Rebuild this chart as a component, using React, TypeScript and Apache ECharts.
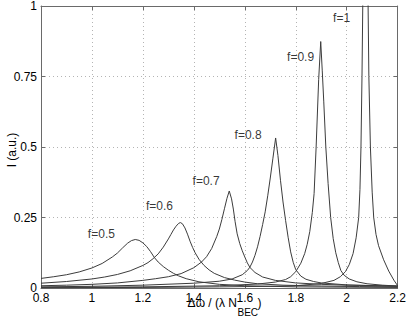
import React, { useEffect, useRef } from "react";
import * as echarts from "echarts";

const FONT = "Liberation Sans, Arial, Helvetica, sans-serif";

const xTickMin = 0.8;
const xTickMax = 2.2;
const xTickStep = 0.2;
const yTickMin = 0;
const yTickMax = 1;
const yTickStep = 0.25;

const curveNames = ["f=0.5", "f=0.6", "f=0.7", "f=0.8", "f=0.9", "f=1"];

const f05: number[][] = [[0.80,0.034],[0.85,0.040],[0.90,0.047],[0.95,0.057],[1.00,0.071],[1.04,0.087],[1.08,0.110],[1.10,0.124],[1.12,0.142],[1.14,0.159],[1.155,0.168],[1.17,0.172],[1.185,0.169],[1.20,0.160],[1.215,0.147],[1.23,0.129],[1.245,0.108],[1.26,0.092],[1.28,0.076],[1.30,0.063],[1.32,0.052],[1.34,0.043],[1.37,0.033],[1.42,0.022],[1.50,0.013],[1.60,0.008],[1.80,0.004],[2.0,0.003],[2.2,0.002]];

const f06: number[][] = [[0.80,0.017],[0.90,0.023],[1.00,0.032],[1.05,0.039],[1.10,0.048],[1.15,0.061],[1.20,0.080],[1.22,0.090],[1.24,0.104],[1.26,0.121],[1.28,0.145],[1.30,0.174],[1.31,0.190],[1.32,0.206],[1.33,0.219],[1.34,0.229],[1.347,0.232],[1.355,0.228],[1.365,0.213],[1.375,0.191],[1.385,0.166],[1.395,0.144],[1.405,0.125],[1.42,0.102],[1.44,0.080],[1.46,0.064],[1.48,0.052],[1.52,0.037],[1.56,0.028],[1.60,0.021],[1.65,0.015],[1.75,0.010],[1.90,0.007],[2.05,0.005],[2.2,0.004]];

const f07: number[][] = [[0.80,0.008],[0.90,0.010],[1.00,0.013],[1.10,0.018],[1.20,0.027],[1.25,0.033],[1.30,0.040],[1.35,0.051],[1.40,0.072],[1.43,0.092],[1.45,0.111],[1.47,0.140],[1.49,0.183],[1.50,0.209],[1.51,0.243],[1.52,0.281],[1.53,0.318],[1.539,0.344],[1.548,0.316],[1.555,0.280],[1.562,0.235],[1.57,0.192],[1.58,0.158],[1.59,0.132],[1.60,0.110],[1.61,0.089],[1.62,0.073],[1.64,0.055],[1.67,0.039],[1.72,0.027],[1.80,0.018],[1.90,0.013],[2.0,0.010],[2.2,0.007]];

const f08: number[][] = [[0.80,0.004],[1.00,0.006],[1.20,0.010],[1.40,0.017],[1.50,0.024],[1.55,0.032],[1.59,0.047],[1.61,0.062],[1.62,0.074],[1.63,0.092],[1.64,0.116],[1.65,0.146],[1.66,0.183],[1.67,0.225],[1.68,0.270],[1.69,0.327],[1.70,0.390],[1.71,0.458],[1.721,0.532],[1.73,0.470],[1.74,0.382],[1.75,0.305],[1.76,0.240],[1.77,0.180],[1.78,0.128],[1.79,0.091],[1.80,0.065],[1.82,0.042],[1.84,0.031],[1.87,0.023],[1.90,0.018],[2.0,0.011],[2.2,0.006]];

const f09: number[][] = [[0.80,0.002],[1.20,0.004],[1.50,0.008],[1.65,0.014],[1.72,0.021],[1.76,0.030],[1.78,0.040],[1.80,0.058],[1.82,0.088],[1.835,0.122],[1.845,0.155],[1.855,0.200],[1.865,0.268],[1.872,0.335],[1.88,0.500],[1.89,0.740],[1.898,0.874],[1.904,0.770],[1.91,0.660],[1.918,0.500],[1.927,0.370],[1.937,0.250],[1.947,0.175],[1.957,0.125],[1.967,0.090],[1.977,0.062],[1.99,0.045],[2.01,0.032],[2.04,0.022],[2.08,0.015],[2.14,0.010],[2.2,0.007]];

const f10: number[][] = [[0.80,0.001],[1.20,0.002],[1.50,0.004],[1.70,0.006],[1.80,0.008],[1.90,0.016],[1.95,0.027],[1.975,0.040],[1.995,0.058],[2.01,0.083],[2.025,0.122],[2.037,0.178],[2.047,0.250],[2.052,0.350],[2.056,0.500],[2.060,0.750],[2.063,1.000],[2.075,2.500],[2.084,1.000],[2.087,0.750],[2.093,0.500],[2.100,0.340],[2.106,0.250],[2.115,0.190],[2.125,0.150],[2.145,0.100],[2.165,0.060],[2.185,0.028],[2.2,0.008]];

const curves = [f05, f06, f07, f08, f09, f10];

// label anchor positions (data coordinates)
const labelX = [1.037, 1.265, 1.448, 1.613, 1.819, 1.98];
const labelY = [0.19, 0.291, 0.378, 0.541, 0.82, 0.956];

const LINE = "#3c3c3c";
const FRAME = "#6a6a6a";
const GRID = "#b4b4b4";

export default function App() {
  const ref = useRef<HTMLDivElement>(null);
  useEffect(() => {
    if (!ref.current) return;
    const chart = echarts.init(ref.current, undefined, { renderer: "svg" });
    const grid = { left: 41, right: 8, top: 5, bottom: 31 };
    const baseX = {
      type: "value" as const,
      min: xTickMin,
      max: xTickMax,
      interval: xTickStep,
    };
    const baseY = {
      type: "value" as const,
      min: yTickMin,
      max: yTickMax,
      interval: yTickStep,
    };
    const option: any = {
      animation: false,
      grid,
      xAxis: [
        {
          ...baseX,
          position: "bottom",
          axisLine: { show: true, onZero: false, lineStyle: { color: FRAME, width: 1 } },
          axisTick: { show: true, inside: true, length: 4, lineStyle: { color: FRAME } },
          axisLabel: { color: "#000", fontSize: 12, fontFamily: FONT, margin: 4 },
          splitLine: { show: true, lineStyle: { color: GRID, type: [1, 3], width: 1 } },
        },
        {
          ...baseX,
          position: "top",
          axisLine: { show: true, onZero: false, lineStyle: { color: FRAME, width: 1 } },
          axisTick: { show: true, inside: true, length: 4, lineStyle: { color: FRAME } },
          axisLabel: { show: false },
          splitLine: { show: false },
        },
      ],
      yAxis: [
        {
          ...baseY,
          position: "left",
          axisLine: { show: true, onZero: false, lineStyle: { color: FRAME, width: 1 } },
          axisTick: { show: true, inside: true, length: 4, lineStyle: { color: FRAME } },
          axisLabel: { color: "#000", fontSize: 12, fontFamily: FONT, margin: 4 },
          splitLine: { show: true, lineStyle: { color: GRID, type: [1, 3], width: 1 } },
        },
        {
          ...baseY,
          position: "right",
          axisLine: { show: true, onZero: false, lineStyle: { color: FRAME, width: 1 } },
          axisTick: { show: true, inside: true, length: 4, lineStyle: { color: FRAME } },
          axisLabel: { show: false },
          splitLine: { show: false },
        },
      ],
      series: [
        ...curves.map((d, i) => ({
          type: "line",
          name: curveNames[i],
          data: d,
          xAxisIndex: 0,
          yAxisIndex: 0,
          symbol: "none",
          showSymbol: false,
          smooth: false,
          clip: true,
          lineStyle: { color: LINE, width: 1 },
          z: 3,
        })),
        {
          type: "scatter",
          xAxisIndex: 0,
          yAxisIndex: 0,
          symbolSize: 0,
          data: curveNames.map((n, i) => ({ name: n, value: [labelX[i], labelY[i]] })),
          label: {
            show: true,
            position: "inside",
            formatter: (p: any) => p.name,
            color: "#000",
            fontSize: 12,
            fontFamily: FONT,
          },
          silent: true,
          z: 5,
        },
      ],
      graphic: [
        {
          type: "text",
          x: 12,
          y: 150,
          rotation: Math.PI / 2,
          style: {
            text: "I (a.u.)",
            fill: "#000",
            fontSize: 12,
            fontFamily: FONT,
            textAlign: "center",
            textVerticalAlign: "middle",
          },
        },
        {
          type: "text",
          x: 237,
          y: 302.5,
          style: {
            text: "Δω / (λ N",
            fill: "#000",
            fontSize: 12,
            fontFamily: FONT,
            textAlign: "right",
            textVerticalAlign: "middle",
          },
        },
        {
          type: "text",
          x: 237.5,
          y: 312.5,
          style: {
            text: "BEC",
            fill: "#000",
            fontSize: 10,
            fontFamily: FONT,
            textAlign: "left",
            textVerticalAlign: "middle",
          },
        },
        {
          type: "text",
          x: 257.5,
          y: 302.5,
          style: {
            text: ")",
            fill: "#000",
            fontSize: 12,
            fontFamily: FONT,
            textAlign: "left",
            textVerticalAlign: "middle",
          },
        },
      ],
    };
    chart.setOption(option);
    return () => chart.dispose();
  }, []);
  return (
    <div
      ref={ref}
      style={{ position: "fixed", left: 0, top: 0, width: 409, height: 319, background: "#fff" }}
    />
  );
}
